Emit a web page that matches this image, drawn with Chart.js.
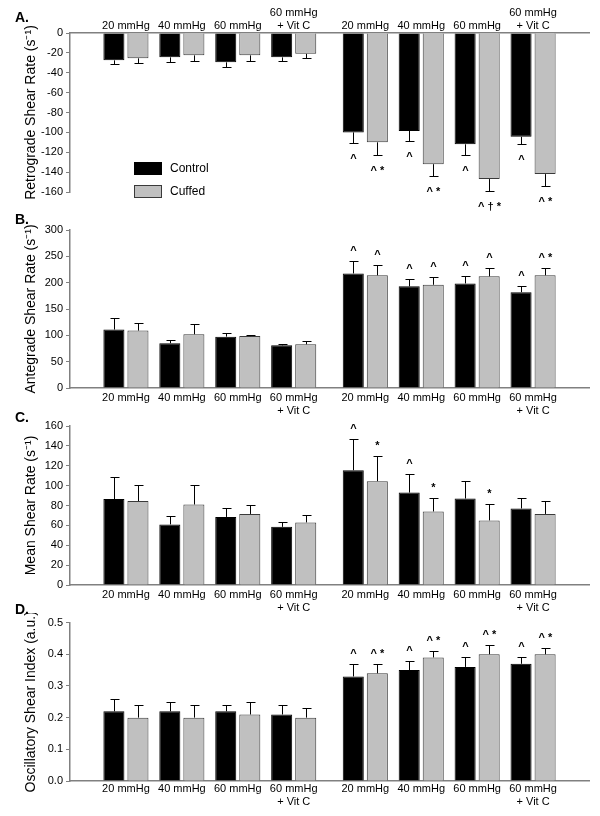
<!DOCTYPE html>
<html>
<head>
<meta charset="utf-8">
<script src="https://cdn.jsdelivr.net/npm/chart.js@4.4.0/dist/chart.umd.min.js"></script>
<style>
  body { margin: 0; background: #fff; }
  #wrap { position: relative; width: 600px; height: 816px; font-family: 'Liberation Sans', Arial, sans-serif; }
  canvas { position: absolute; left: 0; }
  .tag { position: absolute; left: 15px; font-weight: bold; font-size: 14px; line-height: 14px; }
</style>
</head>
<body>
<div id="wrap">
  <canvas id="chartA" width="600" height="215" style="top:0"></canvas>
  <canvas id="chartB" width="600" height="230" style="top:200px"></canvas>
  <canvas id="chartC" width="600" height="215" style="top:416px"></canvas>
  <canvas id="chartD" width="600" height="203" style="top:613px"></canvas>
  <div class="tag" style="top:10px">A.</div>
  <div class="tag" style="top:212px">B.</div>
  <div class="tag" style="top:410px">C.</div>
  <div class="tag" style="top:602px">D.</div>
</div>
<script>
// groups (same for all four panels)
const groups = ['20 mmHg', '40 mmHg', '60 mmHg', ['60 mmHg', '+ Vit C'],
                '20 mmHg', '40 mmHg', '60 mmHg', ['60 mmHg', '+ Vit C']];
const series = ['Control', 'Cuffed'];

// A. Retrograde shear rate
const retroControl    = [-27.5, -24.5, -29.5, -24.5, -100, -98.5, -112, -104.5];
const retroControlSem = [4, 4.5, 5, 3.5, 11, 10.5, 11, 7.5];
const retroCuffed     = [-25.5, -22.5, -22.5, -21, -110, -132, -147, -142];
const retroCuffedSem  = [5, 5.5, 5.5, 4, 12.5, 12, 12, 11.5];
const retroControlMarks = ['', '', '', '', '^', '^', '^', '^'];
const retroCuffedMarks  = ['', '', '', '', '^ *', '^ *', '^ \u2020 *', '^ *'];

// B. Antegrade shear rate
const anteControl    = [111, 85, 97.5, 81, 217.5, 193, 198.5, 182];
const anteControlSem = [21, 6.5, 7.5, 3, 24, 14, 15, 11];
const anteCuffed     = [109, 102, 98.5, 83, 214, 196, 212, 214];
const anteCuffedSem  = [15, 19.5, 2, 7, 19.5, 14, 16, 14.5];
const anteControlMarks = ['', '', '', '', '^', '^', '^', '^'];
const anteCuffedMarks  = ['', '', '', '', '^', '^', '^', '^ *'];

// C. Mean shear rate
const meanControl    = [86.5, 61, 68.5, 58.5, 115.5, 93, 87, 77];
const meanControlSem = [22.5, 8.5, 8.5, 4.5, 31.5, 19, 18, 11];
const meanCuffed     = [84.5, 81, 71.5, 63, 104.5, 74, 65, 71.5];
const meanCuffedSem  = [16.5, 20, 9.5, 7, 25, 14, 17, 13.5];
const meanControlMarks = ['', '', '', '', '^', '^', '', ''];
const meanCuffedMarks  = ['', '', '', '', '*', '*', '*', ''];

// D. Oscillatory shear index
const osiControl    = [0.22, 0.22, 0.22, 0.21, 0.33, 0.35, 0.36, 0.37];
const osiControlSem = [0.04, 0.03, 0.02, 0.03, 0.04, 0.03, 0.03, 0.02];
const osiCuffed     = [0.20, 0.20, 0.21, 0.20, 0.34, 0.39, 0.40, 0.40];
const osiCuffedSem  = [0.04, 0.04, 0.04, 0.03, 0.03, 0.02, 0.03, 0.02];
const osiControlMarks = ['', '', '', '', '^', '^', '^', '^'];
const osiCuffedMarks  = ['', '', '', '', '^ *', '^ *', '^ *', '^ *'];

// layout: x slot of each group on a linear axis (gap between the two halves)
const slotX = [1, 2, 3, 4, 5.28, 6.28, 7.28, 8.28];
const slotMax = 9.28;

const FONT = "'Liberation Sans', Arial, sans-serif";
Chart.defaults.font.family = FONT;
Chart.defaults.color = '#000';

const AXIS = '#808080';

// error bars + significance marks
const errorBars = {
  id: 'errorBars',
  afterDatasetsDraw(chart) {
    const ctx = chart.ctx;
    const yScale = chart.scales.y;
    chart.data.datasets.forEach((ds, di) => {
      const meta = chart.getDatasetMeta(di);
      meta.data.forEach((bar, i) => {
        const v = ds.data[i];
        const e = ds.sem[i];
        const neg = v < 0;
        const tip = Math.round(yScale.getPixelForValue(neg ? v - e : v + e)) + 0.5;
        const x = Math.round(bar.x) + 0.5;
        ctx.save();
        ctx.strokeStyle = '#000';
        ctx.lineWidth = 1;
        ctx.beginPath();
        ctx.moveTo(x, bar.y);
        ctx.lineTo(x, tip);
        ctx.moveTo(x - 4, tip);
        ctx.lineTo(x + 5, tip);
        ctx.stroke();
        const m = ds.marks[i];
        if (m) {
          ctx.fillStyle = '#000';
          ctx.font = 'bold 11px ' + FONT;
          ctx.textAlign = 'center';
          ctx.textBaseline = 'middle';
          ctx.fillText(m, x, neg ? tip + 15 : tip - 11);
        }
        ctx.restore();
      });
    });
  }
};

// legend drawn inside panel A
const innerLegend = {
  id: 'innerLegend',
  afterDraw(chart, args, opts) {
    if (!opts.show) return;
    const ctx = chart.ctx;
    chart.data.datasets.forEach((ds, i) => {
      const y = opts.y + i * 23;
      ctx.save();
      ctx.fillStyle = ds.backgroundColor;
      ctx.fillRect(opts.x, y, 28, 13);
      ctx.strokeStyle = ds.borderColor;
      ctx.lineWidth = 1;
      ctx.strokeRect(opts.x + 0.5, y + 0.5, 27, 12);
      ctx.fillStyle = '#000';
      ctx.font = '12px ' + FONT;
      ctx.textBaseline = 'middle';
      ctx.fillText(ds.label, opts.x + 36, y + 7);
      ctx.restore();
    });
  }
};

function makePanel(id, opt) {
  return new Chart(document.getElementById(id), {
    type: 'bar',
    data: {
      labels: slotX,
      datasets: [
        { label: series[0], data: opt.control, sem: opt.controlSem, marks: opt.controlMarks,
          backgroundColor: '#000000', borderColor: '#000000', borderWidth: 1 },
        { label: series[1], data: opt.cuffed, sem: opt.cuffedSem, marks: opt.cuffedMarks,
          backgroundColor: '#c0c0c0', borderColor: '#3a3a3a', borderWidth: 1 }
      ]
    },
    options: {
      responsive: false,
      animation: false,
      events: [],
      categoryPercentage: 0.86,
      barPercentage: 0.875,
      layout: { padding: { top: opt.padTop, bottom: opt.padBottom, left: 0, right: 11 } },
      plugins: {
        legend: { display: false },
        tooltip: { enabled: false },
        innerLegend: { show: !!opt.legend, x: 134, y: 162 }
      },
      scales: {
        x: {
          type: 'linear',
          position: opt.xPos,
          min: 0,
          max: slotMax,
          offset: false,
          grid: { display: false, drawTicks: false, offset: false },
          border: { display: true, color: AXIS, width: 1.5 },
          afterBuildTicks: s => { s.ticks = slotX.map(v => ({ value: v })); },
          afterFit: s => { s.height = opt.xHeight; },
          ticks: {
            autoSkip: false,
            maxRotation: 0,
            padding: opt.xPad,
            font: { size: 11 },
            color: '#000',
            callback: (v, i) => groups[i]
          }
        },
        y: {
          min: opt.min,
          max: opt.max,
          afterFit: s => { s.width = 70; },
          grid: { display: true, drawOnChartArea: false, drawTicks: true, tickLength: 4, color: AXIS },
          border: { display: true, color: AXIS, width: 1.5 },
          ticks: {
            stepSize: opt.step,
            padding: 3,
            font: { size: 11 },
            color: '#000',
            callback: opt.fmt || (v => v)
          },
          title: {
            display: true,
            text: opt.title,
            font: { size: 14 },
            color: '#000',
            padding: { top: 23, bottom: 0 }
          }
        }
      }
    },
    plugins: [errorBars, innerLegend]
  });
}

makePanel('chartA', {
  control: retroControl, controlSem: retroControlSem, controlMarks: retroControlMarks,
  cuffed: retroCuffed, cuffedSem: retroCuffedSem, cuffedMarks: retroCuffedMarks,
  min: -160, max: 0, step: 20, title: 'Retrograde Shear Rate (s\u207B\u00B9)',
  xPos: 'top', xHeight: 33, xPad: 0, padTop: 0, padBottom: 23, legend: true
});

makePanel('chartB', {
  control: anteControl, controlSem: anteControlSem, controlMarks: anteControlMarks,
  cuffed: anteCuffed, cuffedSem: anteCuffedSem, cuffedMarks: anteCuffedMarks,
  min: 0, max: 300, step: 50, title: 'Antegrade Shear Rate (s\u207B\u00B9)',
  xPos: 'bottom', xHeight: 28, xPad: 3, padTop: 30, padBottom: 14
});

makePanel('chartC', {
  control: meanControl, controlSem: meanControlSem, controlMarks: meanControlMarks,
  cuffed: meanCuffed, cuffedSem: meanCuffedSem, cuffedMarks: meanCuffedMarks,
  min: 0, max: 160, step: 20, title: 'Mean Shear Rate (s\u207B\u00B9)',
  xPos: 'bottom', xHeight: 28, xPad: 3, padTop: 10, padBottom: 18
});

makePanel('chartD', {
  control: osiControl, controlSem: osiControlSem, controlMarks: osiControlMarks,
  cuffed: osiCuffed, cuffedSem: osiCuffedSem, cuffedMarks: osiCuffedMarks,
  min: 0, max: 0.5, step: 0.1, title: 'Oscillatory Shear Index (a.u.)',
  fmt: v => v.toFixed(1),
  xPos: 'bottom', xHeight: 28, xPad: 1, padTop: 9, padBottom: 7
});
</script>
</body>
</html>
